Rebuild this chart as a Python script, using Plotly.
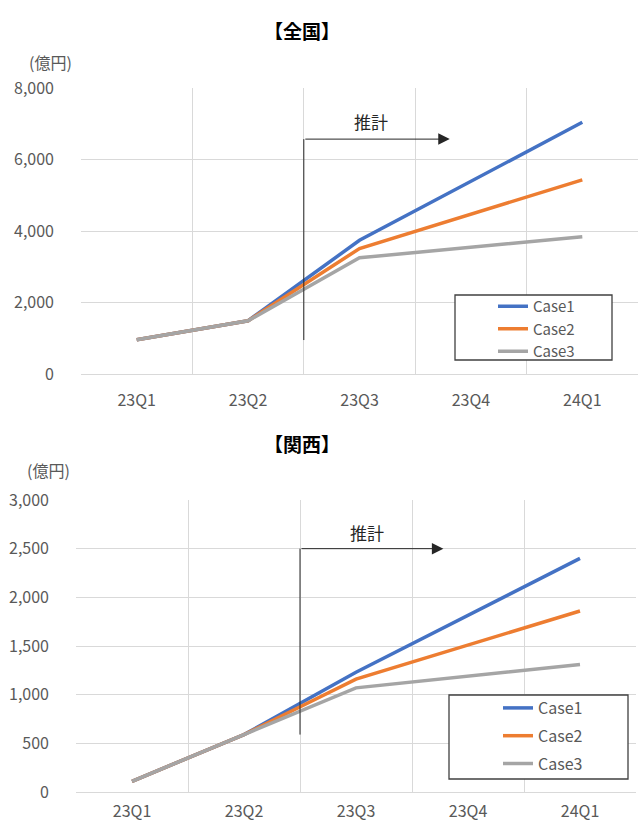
import plotly.graph_objects as go

quarters = ["23Q1", "23Q2", "23Q3", "23Q4", "24Q1"]
case_names = ["Case1", "Case2", "Case3"]
colors = ["#4472C4", "#ED7D31", "#A5A5A5"]

# x positions (category index into quarters); 23Q4 is not a vertex (straight 23Q3 -> 24Q1)
point_idx = [0, 1, 2, 4]

# 全国 (億円)
zenkoku_case1 = [960, 1490, 3740, 7040]
zenkoku_case2 = [960, 1490, 3510, 5430]
zenkoku_case3 = [960, 1490, 3250, 3840]

# 関西 (億円)
kansai_case1 = [110, 590, 1230, 2400]
kansai_case2 = [110, 590, 1160, 1860]
kansai_case3 = [110, 590, 1070, 1310]

FONT = "Noto Sans CJK JP"
TXT = "#595959"
GRID = "#D9D9D9"
H = 823.0
W = 638.0

fig = go.Figure()

for name, col, vals in zip(case_names, colors, [zenkoku_case1, zenkoku_case2, zenkoku_case3]):
    fig.add_trace(go.Scatter(x=point_idx, y=vals, mode="lines", name=name,
                             line=dict(color=col, width=3.5), xaxis="x", yaxis="y",
                             legend="legend", legendgroup="t" + name))
for name, col, vals in zip(case_names, colors, [kansai_case1, kansai_case2, kansai_case3]):
    fig.add_trace(go.Scatter(x=point_idx, y=vals, mode="lines", name=name,
                             line=dict(color=col, width=3.5), xaxis="x2", yaxis="y2",
                             legend="legend2", legendgroup="b" + name))


def xaxis(domain, anchor, standoff):
    return dict(domain=domain, anchor=anchor, range=[-0.5, 4.5], tickmode="array",
                tickvals=list(range(len(quarters))), ticktext=quarters,
                showgrid=False, zeroline=False, showline=True, linecolor=GRID, linewidth=1,
                ticks="", ticklabelstandoff=standoff, automargin=False,
                tickfont=dict(family=FONT, size=16, color=TXT),
                minor=dict(tickmode="array", tickvals=[-0.5, 0.5, 1.5, 2.5, 3.5, 4.5],
                           showgrid=True, gridcolor=GRID, gridwidth=1, ticks=""),
                fixedrange=True)


def yaxis(domain, anchor, rng, dtick):
    return dict(domain=domain, anchor=anchor, range=rng, dtick=dtick, tickformat=",",
                showgrid=True, gridcolor=GRID, gridwidth=1, zeroline=False,
                showline=False, ticks="", ticklabelstandoff=26, automargin=False,
                tickfont=dict(family=FONT, size=16, color=TXT), fixedrange=True)


fig.update_layout(
    width=638, height=823,
    margin=dict(l=0, r=0, t=0, b=0, autoexpand=False),
    paper_bgcolor="white", plot_bgcolor="white",
    xaxis=xaxis([81 / W, 1.0], "y", 12),
    yaxis=yaxis([1 - 374 / H, 1 - 88 / H], "x", [0, 8000], 2000),
    xaxis2=xaxis([76 / W, 636 / W], "y2", 5),
    yaxis2=yaxis([1 - 792 / H, 1 - 500 / H], "x2", [0, 3000], 500),
    legend=dict(x=493 / W, y=1 - 290 / H, xanchor="left", yanchor="top",
                bgcolor="rgba(0,0,0,0)", borderwidth=0, tracegroupgap=0,
                font=dict(family=FONT, size=15, color=TXT)),
    legend2=dict(x=498 / W, y=1 - 691 / H, xanchor="left", yanchor="top",
                 bgcolor="rgba(0,0,0,0)", borderwidth=0, tracegroupgap=4,
                 font=dict(family=FONT, size=16, color=TXT)),
    showlegend=True,
)

shapes = [
    dict(type="rect", xref="paper", yref="paper", x0=455 / W, x1=612 / W,
         y0=1 - 360 / H, y1=1 - 295 / H, line=dict(color="#404040", width=1.3),
         fillcolor="white", layer="above"),
    dict(type="rect", xref="paper", yref="paper", x0=449 / W, x1=628 / W,
         y0=1 - 779 / H, y1=1 - 695 / H, line=dict(color="#404040", width=1.3),
         fillcolor="white", layer="above"),
    dict(type="line", xref="x", yref="y", x0=1.5, x1=1.5, y0=950, y1=6570,
         line=dict(color="#262626", width=1)),
    dict(type="line", xref="x2", yref="y2", x0=1.5, x1=1.5, y0=590, y1=2500,
         line=dict(color="#262626", width=1)),
]
fig.update_layout(shapes=shapes)

ann = [
    dict(text="<b>【全国】</b>", x=302 / W, y=1 - 30 / H, xref="paper", yref="paper",
         xanchor="center", yanchor="middle", showarrow=False,
         font=dict(family=FONT, size=19, color="black")),
    dict(text="<b>【関西】</b>", x=302 / W, y=1 - 443 / H, xref="paper", yref="paper",
         xanchor="center", yanchor="middle", showarrow=False,
         font=dict(family=FONT, size=19, color="black")),
    dict(text="(億円)", x=50 / W, y=1 - 62 / H, xref="paper", yref="paper",
         xanchor="center", yanchor="middle", showarrow=False,
         font=dict(family=FONT, size=16, color=TXT)),
    dict(text="(億円)", x=48 / W, y=1 - 470 / H, xref="paper", yref="paper",
         xanchor="center", yanchor="middle", showarrow=False,
         font=dict(family=FONT, size=16, color=TXT)),
    dict(text="推計", x=2.1, y=7050, xref="x", yref="y", showarrow=False,
         xanchor="center", yanchor="middle",
         font=dict(family=FONT, size=17, color="#262626")),
    dict(text="推計", x=2.1, y=2670, xref="x2", yref="y2", showarrow=False,
         xanchor="center", yanchor="middle",
         font=dict(family=FONT, size=17, color="#262626")),
    dict(text="", x=2.81, y=6570, xref="x", yref="y", ax=1.5, ay=6570,
         axref="x", ayref="y", showarrow=True, arrowhead=2, arrowsize=2.3,
         arrowwidth=1, arrowcolor="#262626"),
    dict(text="", x=2.78, y=2500, xref="x2", yref="y2", ax=1.5, ay=2500,
         axref="x2", ayref="y2", showarrow=True, arrowhead=2, arrowsize=2.3,
         arrowwidth=1, arrowcolor="#262626"),
]
fig.update_layout(annotations=ann)

fig.write_html("out.html", config={"displayModeBar": False},
               post_script="document.body.style.margin='0';document.body.style.overflow='hidden';")
